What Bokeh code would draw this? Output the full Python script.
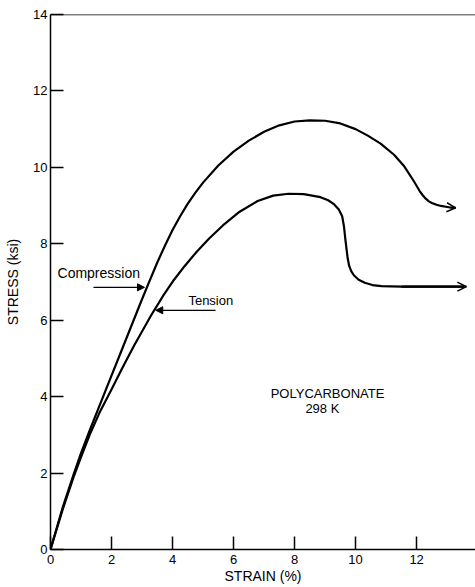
from bokeh.plotting import figure
from bokeh.models import Arrow, OpenHead, NormalHead, Label, Span, Range1d, FixedTicker
from bokeh.embed import file_html
from bokeh.resources import INLINE

# ---- data ----
compression_strain = [0, 0.4, 0.75, 1.0, 1.3, 1.8, 2.45, 2.95, 3.2, 3.5, 3.75, 4.0, 4.25, 4.5, 4.75,
                      5.0, 5.5, 6.0, 6.5, 7.0, 7.5, 8.0, 8.5, 9.0, 9.5, 10.0, 10.4, 10.82, 11.26,
                      11.6, 11.9, 12.1, 12.2, 12.3, 12.4, 12.5, 12.65, 12.8, 13.1, 13.28]
compression_stress = [0, 1.1, 1.95, 2.52, 3.15, 4.15, 5.45, 6.45, 6.94, 7.51, 7.95, 8.36, 8.72, 9.05,
                      9.34, 9.6, 10.05, 10.41, 10.7, 10.93, 11.1, 11.2, 11.23, 11.22, 11.15, 11.0,
                      10.83, 10.62, 10.33, 10.02, 9.65, 9.38, 9.27, 9.18, 9.11, 9.07, 9.02, 8.99,
                      8.95, 8.94]

tension_strain = [0, 0.4, 0.75, 1.0, 1.31, 1.6, 1.97, 2.35, 2.75, 3.3, 3.7, 4.05, 4.4, 4.8, 5.2, 5.65,
                  6.2, 6.79, 7.3, 7.8, 8.3, 8.85, 9.1, 9.3, 9.45, 9.56, 9.62, 9.66, 9.70, 9.74, 9.79,
                  9.86, 9.95, 10.1, 10.3, 10.55, 10.85, 11.5, 13.63]
tension_stress = [0, 1.05, 1.88, 2.42, 3.05, 3.57, 4.14, 4.74, 5.35, 6.13, 6.65, 7.06, 7.42, 7.8, 8.14,
                  8.48, 8.84, 9.12, 9.26, 9.31, 9.3, 9.22, 9.14, 9.03, 8.9, 8.72, 8.45, 8.15, 7.88,
                  7.62, 7.42, 7.28, 7.17, 7.06, 6.98, 6.92, 6.89, 6.88, 6.88]

x_ticks = [0, 2, 4, 6, 8, 10, 12]
y_ticks = [0, 2, 4, 6, 8, 10, 12, 14]

FONT = "Liberation Sans"

p = figure(width=475, height=587, x_range=Range1d(0, 13.93), y_range=Range1d(0, 14),
           output_backend="svg", toolbar_location=None,
           min_border_left=50, min_border_right=0, min_border_top=14, min_border_bottom=38)
p.grid.visible = False
p.outline_line_color = None
p.background_fill_color = "white"
p.border_fill_color = "white"

for ax, ticks, lab in ((p.xaxis, x_ticks, "STRAIN (%)"), (p.yaxis, y_ticks, "STRESS (ksi)")):
    ax.ticker = FixedTicker(ticks=ticks)
    ax.axis_label = lab
    ax.axis_label_text_font = FONT
    ax.axis_label_text_font_style = "normal"
    ax.axis_label_text_font_size = "14px"
    ax.axis_label_text_color = "black"
    ax.major_label_text_font = FONT
    ax.major_label_text_font_size = "13px"
    ax.major_label_text_color = "black"
    ax.major_tick_in = 13
    ax.major_tick_out = 0
    ax.minor_tick_in = 0
    ax.minor_tick_out = 0
    ax.axis_line_width = 1.5
    ax.axis_line_color = "black"
    ax.major_tick_line_width = 1.5
    ax.major_tick_line_color = "black"

p.xaxis.major_label_standoff = 5
p.xaxis.axis_label_standoff = 1
p.yaxis.major_label_standoff = 3
p.yaxis.axis_label_standoff = 9

p.add_layout(Span(location=14, dimension="width", line_color="black", line_width=1.5))

p.line(compression_strain, compression_stress, line_color="black", line_width=2.2,
       line_join="round")
p.line(tension_strain, tension_stress, line_color="black", line_width=2.2, line_join="round")

# open arrowheads at the ends of the curves
for xs, ys in ((compression_strain, compression_stress), (tension_strain, tension_stress)):
    p.add_layout(Arrow(end=OpenHead(size=9, line_width=1.5, line_color="black"),
                       x_start=xs[-2], y_start=ys[-2], x_end=xs[-1], y_end=ys[-1],
                       line_width=2.2, line_color="black"))

# labels with pointer arrows
p.add_layout(Label(x=0.23, y=7.23, text="Compression", text_font=FONT, text_font_size="14px",
                   text_baseline="middle", text_align="left", text_color="black"))
p.add_layout(Arrow(end=NormalHead(size=7, fill_color="black", line_color="black"),
                   x_start=1.41, y_start=6.86, x_end=3.08, y_end=6.86, line_width=1.2))
p.add_layout(Label(x=4.52, y=6.52, text="Tension", text_font=FONT, text_font_size="13px",
                   text_baseline="middle", text_align="left", text_color="black"))
p.add_layout(Arrow(end=NormalHead(size=7, fill_color="black", line_color="black"),
                   x_start=5.41, y_start=6.26, x_end=3.45, y_end=6.26, line_width=1.2))

p.add_layout(Label(x=9.08, y=4.08, text="POLYCARBONATE", text_font=FONT, text_font_size="13px",
                   text_baseline="middle", text_align="center", text_color="black"))
p.add_layout(Label(x=8.97, y=3.69, text="298  K", text_font=FONT, text_font_size="13px",
                   text_baseline="middle", text_align="center", text_color="black"))

open("out.html", "w").write(file_html(p, INLINE))
